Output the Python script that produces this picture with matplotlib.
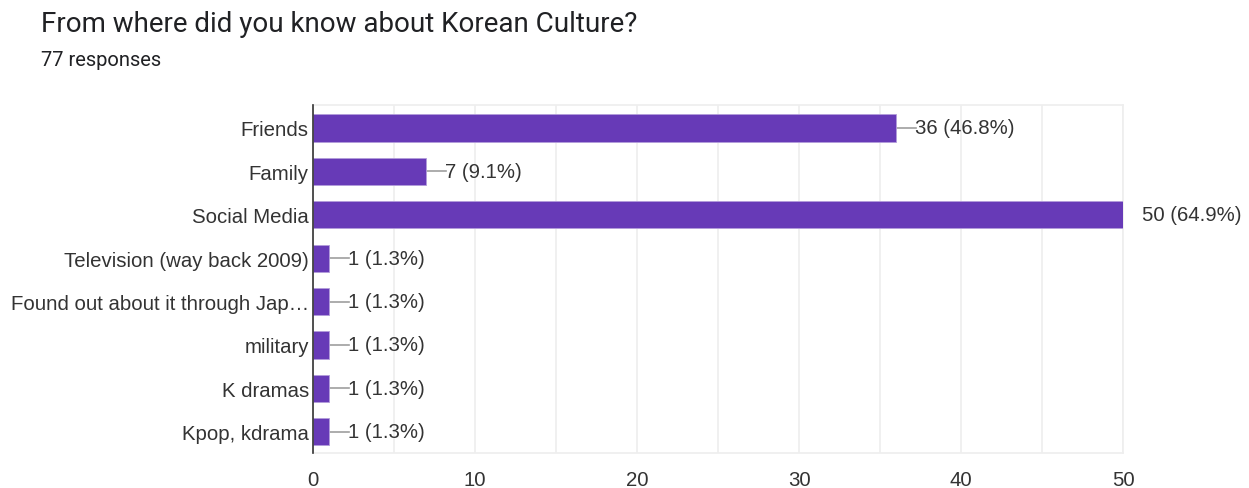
import matplotlib.pyplot as plt
import numpy as np
from matplotlib.transforms import offset_copy

plt.rcParams['font.family'] = ['Roboto', 'DejaVu Sans']

title = 'From where did you know about Korean Culture?'
subtitle = '77 responses'
categories = ['Friends', 'Family', 'Social Media', 'Television (way back 2009)',
              'Found out about it through Jap\u2026', 'military', 'K dramas',
              'Kpop, kdrama']
counts = [36, 7, 50, 1, 1, 1, 1, 1]
percents = [46.8, 9.1, 64.9, 1.3, 1.3, 1.3, 1.3, 1.3]

purple = '#673ab7'
text_col = '#202124'
label_col = '#333333'
label_font = ['Liberation Sans', 'DejaVu Sans']

fig = plt.figure(figsize=(12.49, 4.89), dpi=100)
ax = fig.add_axes([313 / 1249, 1 - 454 / 489, 810 / 1249, 348 / 489])

y = np.arange(len(categories))
ax.barh(y, counts, height=0.63, color=purple, edgecolor='#b39ddb', linewidth=0.6, zorder=3)

# leader line + value label next to each bar
for yi, c, p in zip(y, counts, percents):
    ax.plot([c, c + 1.2], [yi, yi], color='#9e9e9e', lw=1.2, zorder=2)
    tr = offset_copy(ax.transData, fig=fig, x=19, y=0, units='dots')
    ax.text(c, yi, f'{c} ({p}%)', transform=tr, ha='left', va='center',
            fontsize=14.7, color=label_col, family=label_font, clip_on=False)

ax.set_xlim(0, 50)
ax.set_ylim(len(categories) - 0.51, -0.53)
ax.set_xticks(np.arange(0, 51, 10))
ax.set_xticks(np.arange(0, 51, 5), minor=True)
ax.set_yticks(y)
ax.set_yticklabels(categories)
for lab in ax.get_xticklabels() + ax.get_yticklabels():
    lab.set_family(label_font)
ax.tick_params(axis='both', length=0, labelsize=14.7, labelcolor=label_col)
ax.tick_params(axis='y', pad=3)
ax.tick_params(axis='x', pad=12)
ax.tick_params(axis='x', which='minor', length=0)
ax.grid(axis='x', which='both', color='#eeeeee', lw=1.2, zorder=0)
ax.set_axisbelow(True)

for side in ['top', 'right', 'bottom']:
    ax.spines[side].set_color('#eeeeee')
    ax.spines[side].set_linewidth(1.2)
ax.spines['left'].set_color('#333333')
ax.spines['left'].set_linewidth(1.2)
ax.spines['left'].set_zorder(4)

fig.text(41 / 1249, 1 - 24 / 489, title, fontsize=20, color=text_col, va='center', ha='left')
fig.text(41 / 1249, 1 - 60 / 489, subtitle, fontsize=14.5, color=text_col, va='center', ha='left')

fig.savefig('out.png', dpi=100)
